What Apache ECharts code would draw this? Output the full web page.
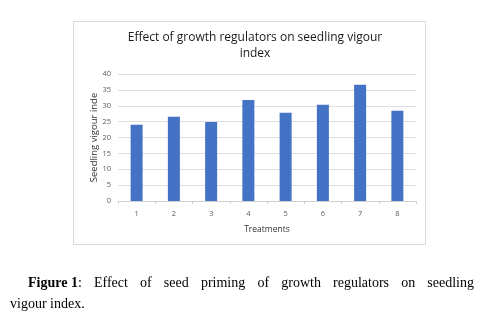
<!DOCTYPE html>
<html>
<head>
<meta charset="utf-8">
<script src="https://cdn.jsdelivr.net/npm/echarts@6/dist/echarts.min.js"></script>
<style>
  html, body { margin: 0; padding: 0; background: #fff; }
  #chart { width: 489px; height: 328px; }
</style>
</head>
<body>
<div id="chart"></div>
<script>
// Treatments and their seedling vigour index
const treatments = ['1', '2', '3', '4', '5', '6', '7', '8'];
const vigourIndex = [24.0, 26.5, 24.9, 31.8, 27.8, 30.3, 36.6, 28.4];
const yTicks = [0, 5, 10, 15, 20, 25, 30, 35, 40];

const chartTitle = 'Effect of growth regulators on seedling vigour\nindex';
const yAxisName = 'Seedling vigour inde';
const xAxisName = 'Treatments';
const captionBold = 'Figure 1';
const captionLine1 = ': Effect of seed priming of growth regulators on seedling';
const captionLine2 = 'vigour index.';

const chart = echarts.init(document.getElementById('chart'), null, { renderer: 'canvas' });

// Justify the first caption line across its width by spacing the words
const ctx = document.createElement('canvas').getContext('2d');
function measure(text, font) { ctx.font = font; return ctx.measureText(text).width; }
const serif = '14px "Liberation Serif", "Times New Roman", serif';
const serifBold = 'bold 14px "Liberation Serif", "Times New Roman", serif';
const lineLeft = 28, lineRight = 474, lineTop = 276;

const lineWords = captionLine1.trim().split(' ');
const colon = lineWords[0];
const restWords = lineWords.slice(1);
const wWidths = restWords.map(w => measure(w, serif));
const boldW = measure(captionBold, serifBold);
const firstW = boldW + measure(colon, serif);
const total = firstW + wWidths.reduce((a, b) => a + b, 0);
const gap = (lineRight - lineLeft - total) / restWords.length;

const captionEls = [
  { type: 'text', left: lineLeft, top: lineTop, style: { text: captionBold, font: serifBold, fill: '#000' } },
  { type: 'text', left: lineLeft + boldW, top: lineTop, style: { text: colon, font: serif, fill: '#000' } }
];
let x = lineLeft + firstW + gap;
restWords.forEach((w, i) => {
  captionEls.push({ type: 'text', left: x, top: lineTop, style: { text: w, font: serif, fill: '#000' } });
  x += wWidths[i] + gap;
});
captionEls.push({
  type: 'text', left: 10, top: lineTop + 21,
  style: { text: captionLine2, font: serif, fill: '#000' }
});

const option = {
  animation: false,
  backgroundColor: '#fff',
  textStyle: { fontFamily: 'Open Sans, Liberation Sans, sans-serif' },
  title: {
    text: chartTitle,
    left: 250, top: 25, textAlign: 'center',
    textStyle: { fontSize: 12, fontWeight: 'normal', color: '#1a1a1a', lineHeight: 16,
                 fontFamily: 'Open Sans, Liberation Sans, sans-serif' }
  },
  grid: { left: 118, right: 73, top: 74, bottom: 127, containLabel: false },
  xAxis: {
    type: 'category',
    data: treatments,
    name: xAxisName,
    nameLocation: 'middle',
    nameGap: 24,
    nameMoveOverlap: false,
    nameTextStyle: { fontSize: 8.5, color: '#333' },
    axisLine: { lineStyle: { color: '#d0d0d0' } },
    axisTick: { show: true, length: 3, lineStyle: { color: '#d0d0d0' } },
    axisLabel: { fontSize: 7.5, color: '#595959', margin: 9 }
  },
  yAxis: {
    type: 'value',
    min: yTicks[0], max: yTicks[yTicks.length - 1], interval: 5,
    name: yAxisName,
    nameLocation: 'middle',
    nameGap: 19,
    nameMoveOverlap: false,
    nameRotate: 90,
    nameTextStyle: { fontSize: 9.5, color: '#333' },
    axisLine: { show: false },
    axisTick: { show: false },
    axisLabel: { fontSize: 7.5, color: '#595959', margin: 7 },
    splitLine: { lineStyle: { color: '#dedede' } }
  },
  series: [{
    type: 'bar',
    data: vigourIndex,
    barWidth: 12,
    itemStyle: { color: '#4472C4' }
  }],
  graphic: [
    {
      type: 'rect', shape: { x: 73.5, y: 21.5, width: 352, height: 223 },
      style: { fill: 'none', stroke: '#d9d9d9', lineWidth: 1 }, z: -1
    },
    ...captionEls
  ]
};

chart.setOption(option);
</script>
</body>
</html>
